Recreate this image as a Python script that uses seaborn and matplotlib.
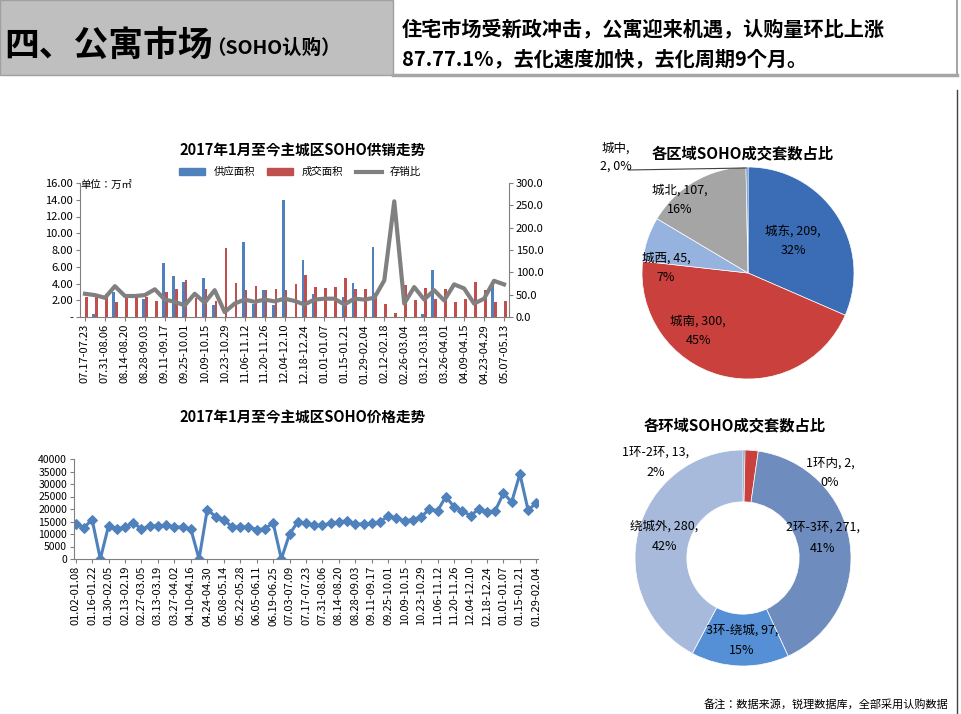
import matplotlib
matplotlib.use("Agg")
import matplotlib.pyplot as plt
from matplotlib import font_manager
import seaborn as sns
import pandas as pd
import numpy as np
from matplotlib.lines import Line2D
from matplotlib.patches import Patch, Rectangle

cjk = [f.name for f in font_manager.fontManager.ttflist if "CJK" in f.name]
pref = [n for n in ["Noto Sans CJK SC", "Noto Sans CJK JP"] if n in cjk] or cjk[:1]
plt.rcParams["font.family"] = "sans-serif"
plt.rcParams["font.sans-serif"] = pref + ["DejaVu Sans"]
plt.rcParams["axes.unicode_minus"] = False

# ---------- data ----------
supply_ticks = ["07.17-07.23","07.31-08.06","08.14-08.20","08.28-09.03","09.11-09.17","09.25-10.01",
                "10.09-10.15","10.23-10.29","11.06-11.12","11.20-11.26","12.04-12.10","12.18-12.24",
                "01.01-01.07","01.15-01.21","01.29-02.04","02.12-02.18","02.26-03.04","03.12-03.18",
                "03.26-04.01","04.09-04.15","04.23-04.29","05.07-05.13"]
supply = [0,0.3,0,3.0,0,0,2.2,0,6.5,4.9,4.2,0,4.6,1.4,0,0,9.0,1.5,3.2,1.4,14.0,0,6.8,2.8,0,0,2.4,4.1,0,8.4,
          0,0,0,0,0.3,5.6,0,0,0,0,0,3.9,0]
deal = [2.4,2.5,2.7,1.8,2.4,2.4,2.4,1.9,3.0,3.4,4.4,2.3,3.4,1.9,8.2,4.1,3.2,3.7,3.2,3.3,3.2,3.9,5.0,3.6,
        3.5,3.6,4.7,3.3,3.3,2.9,1.5,0.5,3.8,2.0,3.5,2.2,3.4,1.8,2.2,4.2,3.2,1.8,1.9]
ratio = [52,49,43,69,47,47,49,62,39,34,26,52,32,60,11,30,39,34,39,35,41,36,28,39,41,41,28,41,39,43,
         82,259,30,67,39,60,37,73,64,30,41,81,73]

price_ticks = ["01.02-01.08","01.16-01.22","01.30-02.05","02.13-02.19","02.27-03.05","03.13-03.19",
               "03.27-04.02","04.10-04.16","04.24-04.30","05.08-05.14","05.22-05.28","06.05-06.11",
               "06.19-06.25","07.03-07.09","07.17-07.23","07.31-08.06","08.14-08.20","08.28-09.03",
               "09.11-09.17","09.25-10.01","10.09-10.15","10.23-10.29","11.06-11.12","11.20-11.26",
               "12.04-12.10","12.18-12.24","01.01-01.07","01.15-01.21","01.29-02.04"]
price = [14000,12500,15800,0,13300,12000,12800,14500,12000,13200,13200,13500,12800,12800,12000,0,
         19800,17000,15800,12800,12800,12800,11800,12000,14500,0,10000,14800,14300,13500,13500,14300,
         14800,15300,14000,14000,14300,14800,17300,16300,15300,15800,16800,20000,19300,25000,20800,
         19300,17300,20000,18800,19300,26300,22800,34000,19500,22500]

district_names = ["城东","城南","城西","城北","城中"]
district_vals = [209,300,45,107,2]
district_pct = ["32%","45%","7%","16%","0%"]

ring_names = ["1环内","1环-2环","2环-3环","3环-绕城","绕城外"]
ring_vals = [2,13,271,97,280]
ring_pct = ["0%","2%","41%","15%","42%"]

W, H = 961, 714
fig = plt.figure(figsize=(W/100, H/100), dpi=100)

def fx(x): return x / W
def fy(y): return 1 - y / H

# ---------- header ----------
fig.patches.append(Rectangle((0, fy(75)), fx(393), 75/H, transform=fig.transFigure,
                             facecolor="#BFBFBF", edgecolor="#A0A0A0", lw=1))
fig.add_artist(Line2D([fx(393), fx(957)], [fy(75), fy(75)], color="#A6A6A6", lw=2.5))
fig.add_artist(Line2D([fx(957), fx(957)], [fy(0), fy(75)], color="#A6A6A6", lw=1.5))
fig.add_artist(Line2D([fx(957), fx(957)], [fy(90), fy(714)], color="#404040", lw=1))
fig.text(fx(4), fy(45), "四、公寓市场", fontsize=25, fontweight="bold", va="center", ha="left")
fig.text(fx(206), fy(48), "（SOHO认购）", fontsize=14, fontweight="bold", va="center", ha="left")
fig.text(fx(402), fy(29), "住宅市场受新政冲击，公寓迎来机遇，认购量环比上涨", fontsize=14.5,
         fontweight="bold", va="center")
fig.text(fx(402), fy(59), "87.77.1%，去化速度加快，去化周期9个月。", fontsize=14.5,
         fontweight="bold", va="center")
fig.text(fx(948), fy(704), "备注：数据来源，锐理数据库，全部采用认购数据", fontsize=8, ha="right", va="center")

# ---------- bar chart ----------
n = len(deal)
ax1 = fig.add_axes([fx(80), fy(317), fx(429), (317-183)/H])
df = pd.DataFrame({"cat": list(range(n))*2, "val": supply+deal,
                   "series": ["供应面积"]*n + ["成交面积"]*n})
sns.barplot(data=df, x="cat", y="val", hue="series", palette=["#4F81BD", "#C0504D"],
            width=0.55, ax=ax1, legend=False, saturation=1)
ax1.set_xlim(-0.5, n-0.5)
ax1.set_ylim(0, 16)
ax1.set_yticks(np.arange(0, 16.1, 2))
ax1.set_yticklabels([f"{v:.2f}" if v > 0 else "-" for v in np.arange(0, 16.1, 2)], fontsize=8)
ax1.set_xticks(range(0, n, 2))
ax1.set_xticklabels(supply_ticks, rotation=90, fontsize=8)
ax1.set_xlabel(""); ax1.set_ylabel("")
for s in ["top", "right"]:
    ax1.spines[s].set_visible(False)
ax1.spines["left"].set_color("#808080"); ax1.spines["bottom"].set_color("#808080")
ax1.tick_params(length=3, color="#808080", pad=2)
ax2 = ax1.twinx()
sns.lineplot(x=list(range(n)), y=ratio, ax=ax2, color="#808080", lw=3)
ax2.set_ylim(0, 300)
ax2.set_yticks(np.arange(0, 301, 50))
ax2.set_yticklabels([f"{v:.1f}" for v in np.arange(0, 301, 50)], fontsize=8)
for s in ["top", "left", "bottom"]:
    ax2.spines[s].set_visible(False)
ax2.spines["right"].set_color("#808080")
ax2.tick_params(length=3, color="#808080", pad=2)
ax1.text(0.0, 0.99, "单位：万㎡", transform=ax1.transAxes, fontsize=7.5, va="center")
handles = [Patch(color="#4F81BD"), Patch(color="#C0504D"), Line2D([], [], color="#808080", lw=3)]
fig.legend(handles, ["供应面积", "成交面积", "存销比"], loc="center", bbox_to_anchor=(fx(300), fy(172)),
           ncol=3, frameon=False, fontsize=7.5, handlelength=2.5, handleheight=0.6, columnspacing=1.2)
fig.text(fx(303), fy(151), "2017年1月至今主城区SOHO供销走势", fontsize=10.5, fontweight="bold",
         ha="center", va="center")

# ---------- price line ----------
m = len(price)
ax3 = fig.add_axes([fx(74), fy(559), fx(464), (559-459)/H])
sns.lineplot(x=list(range(m)), y=price, ax=ax3, color="#4F81BD", lw=2.2, marker="D",
             markersize=5.5, markeredgecolor="#4F81BD")
ax3.set_xlim(-0.2, m-0.8)
ax3.set_ylim(0, 40000)
ax3.set_yticks(range(0, 40001, 5000))
ax3.set_yticklabels([str(v) for v in range(0, 40001, 5000)], fontsize=7.5)
ax3.set_xticks(range(0, m, 2))
ax3.set_xticklabels(price_ticks, rotation=90, fontsize=8)
for s in ["top", "right"]:
    ax3.spines[s].set_visible(False)
ax3.spines["left"].set_color("#808080"); ax3.spines["bottom"].set_color("#808080")
ax3.tick_params(length=3, color="#808080", pad=2)
fig.text(fx(303), fy(418), "2017年1月至今主城区SOHO价格走势", fontsize=10.5, fontweight="bold",
         ha="center", va="center")

# ---------- district pie ----------
cx, cy, r = 748, 273, 106
axp = fig.add_axes([fx(cx-r), fy(cy+r), 2*r/W, 2*r/H])
axp.pie(district_vals, colors=["#3A6DB5", "#C9403D", "#95B3DE", "#A5A5A5", "#4F81BD"],
        startangle=90, counterclock=False, wedgeprops=dict(edgecolor="white", lw=0.5))
axp.set_aspect("auto"); axp.set_xlim(-1, 1); axp.set_ylim(-1, 1)
lab = {"城东": (793, 241), "城南": (698, 331), "城西": (666, 268), "城北": (680, 200)}
for nm, v, p in zip(district_names, district_vals, district_pct):
    if nm in lab:
        x, y = lab[nm]
        fig.text(fx(x), fy(y), f"{nm}, {v},\n{p}", fontsize=9, ha="center", va="center", linespacing=1.6)
fig.text(fx(616), fy(157), "城中,\n2, 0%", fontsize=9, ha="center", va="center", linespacing=1.5)
fig.add_artist(Line2D([fx(628), fx(746)], [fy(170), fy(168)], color="#404040", lw=0.8))
fig.text(fx(743), fy(153), "各区域SOHO成交套数占比", fontsize=11, fontweight="bold", ha="center", va="center")

# ---------- ring donut ----------
cx, cy, r = 743, 558, 108
axd = fig.add_axes([fx(cx-r), fy(cy+r), 2*r/W, 2*r/H])
axd.pie(ring_vals, colors=["#2F5597", "#C9403D", "#6F8CBE", "#5590D6", "#A7BADB"],
        startangle=90, counterclock=False, wedgeprops=dict(width=0.48, edgecolor="white", lw=0.5))
axd.set_aspect("auto"); axd.set_xlim(-1, 1); axd.set_ylim(-1, 1)
labd = {"1环内": (830, 473), "1环-2环": (656, 463), "2环-3环": (823, 538),
        "3环-绕城": (742, 640), "绕城外": (664, 536)}
for nm, v, p in zip(ring_names, ring_vals, ring_pct):
    x, y = labd[nm]
    fig.text(fx(x), fy(y), f"{nm}, {v},\n{p}", fontsize=9, ha="center", va="center", linespacing=1.7)
fig.text(fx(735), fy(425), "各环域SOHO成交套数占比", fontsize=11, fontweight="bold", ha="center", va="center")

fig.savefig("out.png", dpi=100)
